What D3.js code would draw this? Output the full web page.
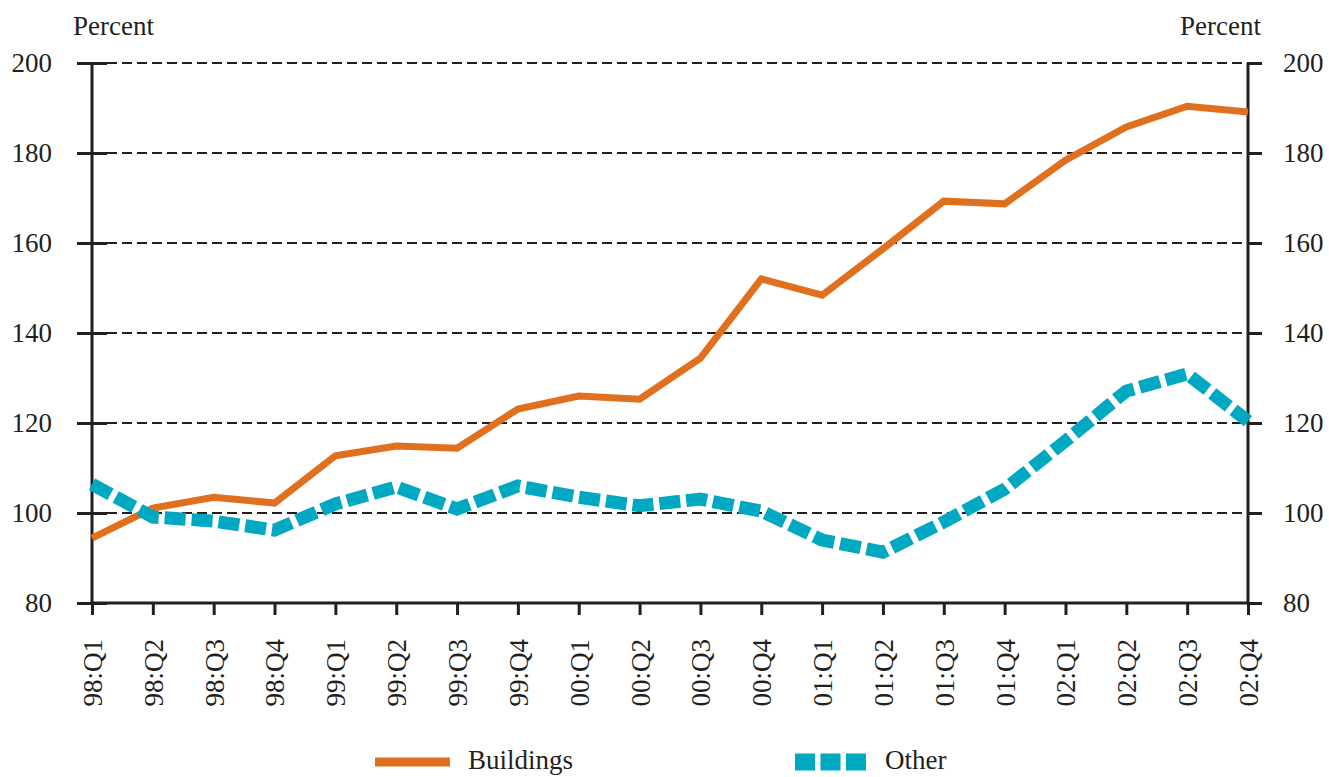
<!DOCTYPE html>
<html>
<head>
<meta charset="utf-8">
<script src="https://cdn.jsdelivr.net/npm/d3@7"></script>
<style>
  body { margin: 0; background: #fff; }
  text { font-family: "Liberation Serif", "Times New Roman", serif; fill: #231f20; }
</style>
</head>
<body>
<div id="chart-area"></div>
<script>
const quarters = ['98:Q1','98:Q2','98:Q3','98:Q4','99:Q1','99:Q2','99:Q3','99:Q4',
  '00:Q1','00:Q2','00:Q3','00:Q4','01:Q1','01:Q2','01:Q3','01:Q4',
  '02:Q1','02:Q2','02:Q3','02:Q4'];
const buildings = [94.4,101.1,103.5,102.2,112.7,114.9,114.4,123.1,126.0,125.3,
  134.4,152.0,148.4,158.7,169.3,168.7,178.4,185.8,190.4,189.1];
const other = [106.4,99.1,98.2,96.2,102.0,105.8,100.9,106.0,103.5,101.6,
  103.1,100.4,94.0,91.3,98.0,105.3,116.0,127.1,130.9,120.4];
const yTicks = [80,100,120,140,160,180,200];

const MARGIN = { LEFT: 92, RIGHT: 81, TOP: 63, BOTTOM: 174 };
const W = 1329, H = 777;
const WIDTH = W - MARGIN.LEFT - MARGIN.RIGHT;
const HEIGHT = H - MARGIN.TOP - MARGIN.BOTTOM;
const FS = 27;

const svg = d3.select('#chart-area').append('svg')
  .attr('width', W).attr('height', H);
const g = svg.append('g').attr('transform', `translate(${MARGIN.LEFT},${MARGIN.TOP})`);

const x = d3.scalePoint().domain(quarters).range([0, WIDTH]);
const y = d3.scaleLinear().domain([80, 200]).range([HEIGHT, 0]);

// gridlines
g.selectAll('.grid').data(yTicks.filter(d => d > 80)).enter().append('line')
  .attr('x1', 0).attr('x2', WIDTH)
  .attr('y1', d => y(d)).attr('y2', d => y(d))
  .attr('stroke', '#231f20').attr('stroke-width', 2)
  .attr('stroke-dasharray', '10,5');

// axes
const yl = g.append('g').call(d3.axisLeft(y).tickValues(yTicks).tickSize(15).tickPadding(25));
yl.selectAll('.tick line').attr('x1', 15);
const yr = g.append('g').attr('transform', `translate(${WIDTH},0)`)
  .call(d3.axisRight(y).tickValues(yTicks).tickSize(14).tickPadding(21));
const xa = g.append('g').attr('transform', `translate(0,${HEIGHT})`)
  .call(d3.axisBottom(x).tickSize(12).tickPadding(0));
xa.selectAll('text')
  .attr('transform', 'rotate(-90)')
  .attr('text-anchor', 'end')
  .attr('dy', '0.35em')
  .attr('x', -36)
  .attr('y', 0);
[yl, yr, xa].forEach(a => {
  a.selectAll('text').attr('font-size', FS);
  a.select('.domain').attr('stroke', '#231f20').attr('stroke-width', 3);
  a.selectAll('.tick line').attr('stroke', '#231f20').attr('stroke-width', 3);
});
yl.select('.domain').attr('d', `M0,0V${HEIGHT}`);
yr.select('.domain').attr('d', `M0,0V${HEIGHT}`);
xa.select('.domain').attr('d', `M0,0H${WIDTH}`);

// unit labels
svg.append('text').attr('x', 73).attr('y', 35).attr('font-size', FS).text('Percent');
svg.append('text').attr('x', 1261).attr('y', 35).attr('font-size', FS)
  .attr('text-anchor', 'end').text('Percent');

const line = d3.line().x((d, i) => x(quarters[i])).y(d => y(d));

g.append('path').datum(buildings)
  .attr('d', line).attr('fill', 'none')
  .attr('stroke', '#e0701e').attr('stroke-width', 7);

g.append('path').datum(other)
  .attr('d', line).attr('fill', 'none')
  .attr('stroke', '#00a8c2').attr('stroke-width', 13)
  .attr('stroke-dasharray', '21,6');

// legend
const lg = svg.append('g');
lg.append('line').attr('x1', 375).attr('x2', 450).attr('y1', 762).attr('y2', 762)
  .attr('stroke', '#e0701e').attr('stroke-width', 9);
lg.append('text').attr('x', 468).attr('y', 769).attr('font-size', FS).text('Buildings');
lg.append('line').attr('x1', 795).attr('x2', 866).attr('y1', 762).attr('y2', 762)
  .attr('stroke', '#00a8c2').attr('stroke-width', 17).attr('stroke-dasharray', '20,5.5');
lg.append('text').attr('x', 885).attr('y', 769).attr('font-size', FS).text('Other');
</script>
</body>
</html>
